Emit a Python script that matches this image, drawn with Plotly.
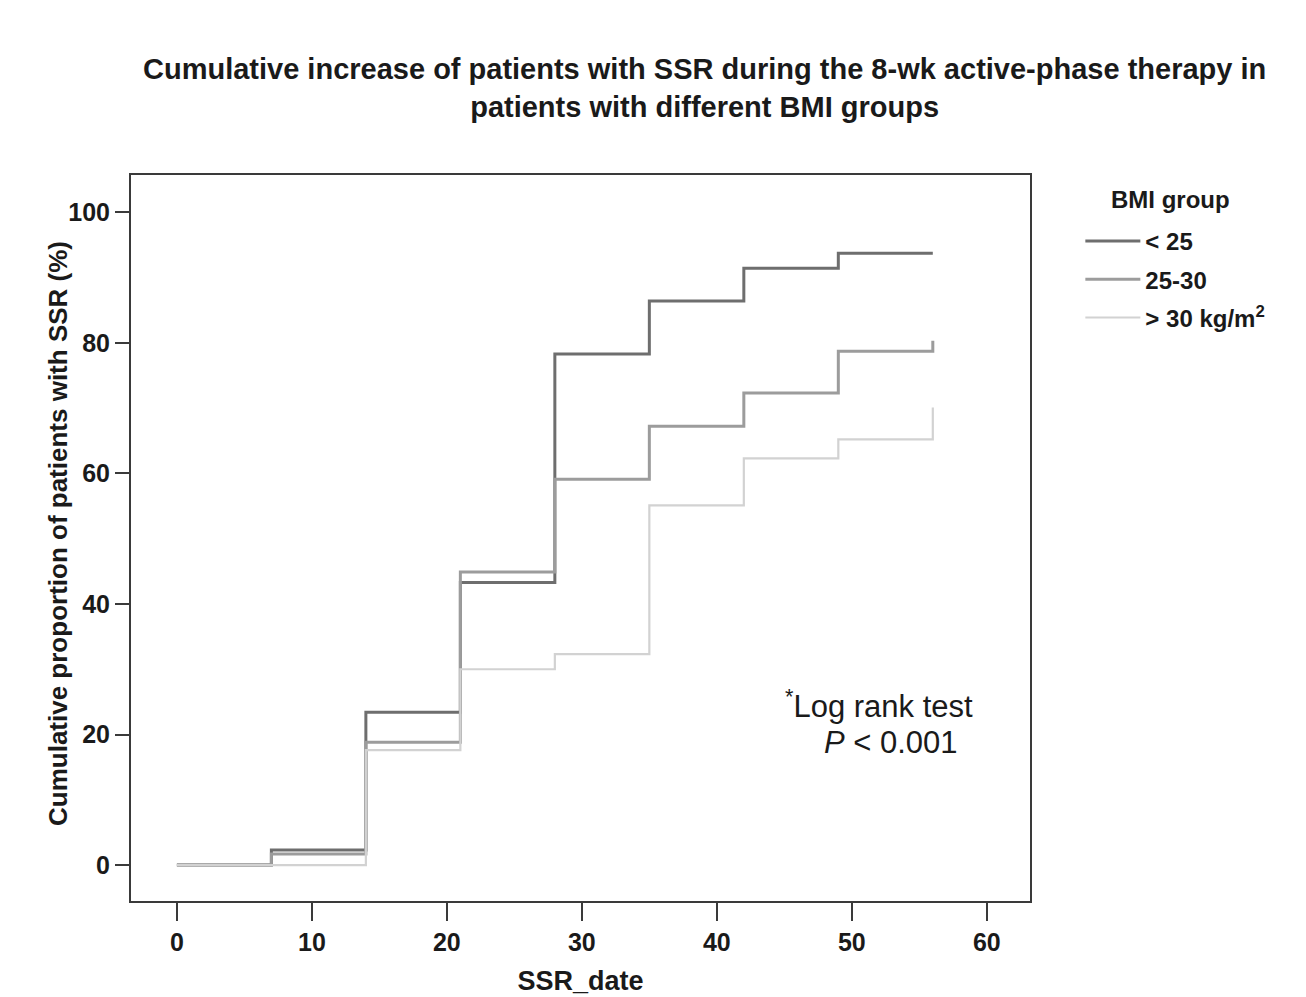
import plotly.graph_objects as go

# Data
weeks_days = [0, 7, 14, 21, 28, 35, 42, 49, 56]
bmi_lt25 = [0, 2.3, 23.4, 43.3, 78.3, 86.4, 91.4, 93.7, 93.7]
bmi_25_30 = [0, 1.7, 18.8, 44.9, 59.1, 67.2, 72.3, 78.7, 80.3]
bmi_gt30 = [0, 0, 17.6, 30.0, 32.3, 55.1, 62.3, 65.2, 70.1]

series_names = ["< 25", "25-30", "> 30 kg/m<sup>2</sup>"]
series_values = [bmi_lt25, bmi_25_30, bmi_gt30]
series_colors = ["#6e6e6e", "#9c9c9c", "#d2d2d2"]
series_widths = [3, 3, 2.2]

x_ticks = [0, 10, 20, 30, 40, 50, 60]
y_ticks = [0, 20, 40, 60, 80, 100]

FONT = "Liberation Sans, Arial, sans-serif"
PLOT_W, PLOT_H = 899, 726

fig = go.Figure()
for i, (name, vals, col, w) in enumerate(zip(series_names, series_values, series_colors, series_widths)):
    fig.add_trace(go.Scatter(
        x=weeks_days, y=vals, mode="lines", name=name,
        line=dict(color=col, width=w, shape="hv"),
        legendgroup=f"g{i}", showlegend=True,
    ))

fig.update_layout(
    width=1306, height=997,
    paper_bgcolor="white", plot_bgcolor="white",
    margin=dict(l=123, r=284, t=167, b=104),
    font=dict(family=FONT, color="#1a1a1a"),
    showlegend=True,
    legend=dict(
        x=1.056, y=(901 - 219) / PLOT_H, xanchor="left", yanchor="top",
        bgcolor="rgba(0,0,0,0)",
        font=dict(family=FONT, size=24, color="#1a1a1a", weight="bold"),
        itemwidth=55, tracegroupgap=4, traceorder="grouped",
    ),
    xaxis=dict(
        range=[-3.4, 63.2], tickvals=x_ticks, ticktext=[str(t) for t in x_ticks],
        showgrid=False, zeroline=False,
        showline=True, linecolor="#3a3a3a", linewidth=2, mirror=True,
        ticks="outside", ticklen=18, tickwidth=2, tickcolor="#3a3a3a",
        tickfont=dict(family=FONT, size=25, color="#1a1a1a", weight="bold"),
        title=dict(text="SSR_date", standoff=16,
                   font=dict(family=FONT, size=27, color="#1a1a1a", weight="bold")),
    ),
    yaxis=dict(
        range=[-5.5, 105.7], tickvals=y_ticks, ticktext=[str(t) for t in y_ticks],
        showgrid=False, zeroline=False,
        showline=True, linecolor="#3a3a3a", linewidth=2, mirror=True,
        ticks="outside", ticklen=14, tickwidth=2, tickcolor="#3a3a3a",
        tickfont=dict(family=FONT, size=25, color="#1a1a1a", weight="bold"),
    ),
)

# y-axis title placed as a rotated annotation for exact position
fig.add_annotation(
    text="Cumulative proportion of patients with SSR (%)",
    xref="paper", yref="paper", x=(58 - 131) / PLOT_W, y=(901 - 534) / PLOT_H,
    xanchor="center", yanchor="middle", textangle=-90, showarrow=False,
    font=dict(family=FONT, size=26, color="#1a1a1a", weight="bold"),
)

# legend title
fig.add_annotation(
    text="BMI group",
    xref="paper", yref="paper", x=(1170 - 131) / PLOT_W, y=(901 - 200) / PLOT_H,
    xanchor="center", yanchor="middle", showarrow=False,
    font=dict(family=FONT, size=24, color="#1a1a1a", weight="bold"),
)

fig.add_annotation(
    text="Cumulative increase of patients with SSR during the 8-wk active-phase therapy in<br>patients with different BMI groups",
    xref="paper", yref="paper", x=0.638, y=1.0 + (175 - 88) / PLOT_H,
    xanchor="center", yanchor="middle", showarrow=False,
    font=dict(family=FONT, size=29, color="#1a1a1a", weight="bold"),
)

fig.add_annotation(
    text="<sup>*</sup>Log rank test", xref="x", yref="y", x=44.9, y=24.7,
    xanchor="left", yanchor="middle", showarrow=False,
    font=dict(family=FONT, size=31, color="#1a1a1a"),
)
fig.add_annotation(
    text="<i>P</i> < 0.001", xref="x", yref="y", x=47.8, y=18.8,
    xanchor="left", yanchor="middle", showarrow=False,
    font=dict(family=FONT, size=31, color="#1a1a1a"),
)

fig.write_html("out.html")
